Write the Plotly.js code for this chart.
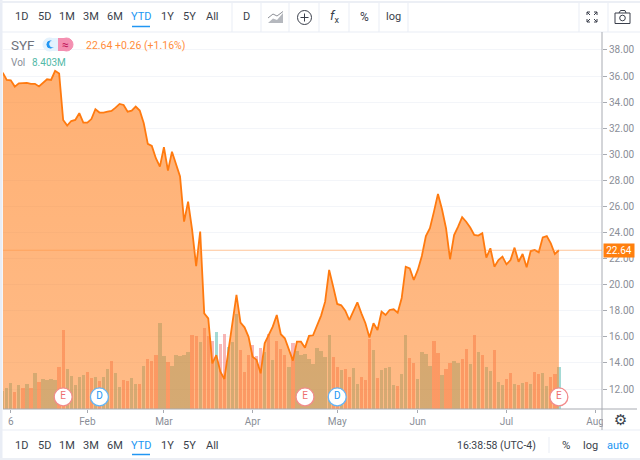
<!DOCTYPE html>
<html>
<head>
<meta charset="utf-8">
<script src="https://cdn.plot.ly/plotly-3.0.1.min.js"></script>
<style>html,body{margin:0;padding:0;background:#fff;overflow:hidden}#c{width:640px;height:460px}</style>
</head>
<body>
<div id="c"></div>
<script>
var closes = [36.26,35.7,35.67,35.19,35.44,35.44,35.47,35.4,35.4,35.2,
35.44,35.75,35.7,36.4,36.2,32.63,32.2,32.55,32.63,33.15,
32.43,32.43,32.7,33.45,33.2,33.2,33.27,33.32,33.58,33.86,
33.78,33.27,33.35,33.66,33.35,32.38,30.8,30.64,29.7,29.05,
30.54,28.75,30.2,29.3,28.3,24.83,26.37,24.2,21.43,24.07,
17.8,17.42,13.97,14.6,13.33,12.77,14.99,17.04,19.21,17.09,
16.73,16.0,14.48,14.23,13.2,15.5,16.14,16.78,17.67,16.2,
15.89,15.0,14.18,15.63,15.63,15.17,16.07,16.12,16.91,17.63,
18.7,21.13,19.85,18.52,18.42,18.0,17.29,17.93,18.65,17.8,
17.04,15.95,17.04,16.52,17.93,17.67,18.06,18.11,17.85,18.98,
21.38,21.25,20.36,21.13,22.2,23.73,24.33,25.6,26.96,25.78,
24.33,21.95,23.81,24.45,25.17,24.83,24.38,23.81,23.76,23.94,
22.07,22.79,21.38,21.89,22.15,21.56,21.89,22.84,21.76,22.35,
21.33,22.58,22.66,22.48,23.63,23.73,23.17,22.35,22.64];
var volumes = [3.67,4.13,5.27,3.33,4.8,4.13,5,4.13,7.13,5.4,
6,5.8,6,5.8,8.33,15.8,8.07,6.6,4.8,6.47,
6.73,7.4,6.13,6.47,5.6,6.47,8,9.67,7.27,4.33,
5.8,5.67,6.13,5,5,8.6,9.93,9.67,10.8,17.3,
10.6,9.5,8.65,10.8,10.7,10.8,11.35,14.8,14.67,13.33,
16.15,14.6,13.55,15.33,13,14.93,12.33,13.33,18.93,11.8,
7.4,10.8,12.8,10.67,12.13,11.47,14.93,9.8,13.6,12,
10.73,8.47,13.27,11.6,10.8,11,10,9,12.2,11.6,
10.5,14.8,10.5,8.33,7.8,7.93,6.4,8.13,5,6.35,
5.85,13.93,11.8,6.13,7.8,8.13,8.33,4.8,4.6,7,
14.8,10.13,9.27,5.93,11.47,11,8.6,13.6,11.13,6.73,
8,9.13,9.6,9.13,10,12,9,14.8,11.33,10.8,
8.47,7.67,11.8,5.33,4.8,6.07,7.13,5,4.8,5.27,
5.4,5,7.4,7,7.13,4.6,6.47,7,8.403];
var volumeDirection = ["u","u","u","d","u","d","u","d","u","d",
"u","u","u","u","d","d","u","u","u","u",
"u","d","d","u","d","u","u","d","u","u",
"d","d","u","u","d","u","d","d","d","u",
"u","d","u","u","u","u","u","d","d","u",
"d","d","d","u","d","d","u","u","u","d",
"d","d","d","d","d","u","d","u","d","d",
"d","u","d","u","u","u","u","u","u","u",
"u","u","d","d","u","d","d","u","u","d",
"d","d","u","d","u","u","u","u","d","u",
"u","d","d","u","u","u","u","d","d","u",
"d","d","u","u","d","d","u","d","u","d",
"u","u","d","u","u","d","d","u","d","u",
"d","u","d","d","u","u","d","d","u"];
var eventIndex = [15,24,75,83,138];
var eventLabels = ["E","D","E","D","E"];
var xTickIndex = [2,21,40,62,83,103,125,147];
var xTickLabels = ["6","Feb","Mar","Apr","May","Jun","Jul","Aug"];
var yTicks = [12,14,16,18,20,22,24,26,28,30,32,34,36,38];
var rangeButtons = ["1D","5D","1M","3M","6M","YTD","1Y","5Y","All"];

var index = closes.map(function(_, i){ return i; });
var last = closes[closes.length-1];
var FONT = "Roboto, 'Noto Sans', sans-serif";
var L=3, R=602, T=33, B=409;
function px(x){ return (x-L)/(R-L); }
function py(y){ return (B-y)/(B-T); }
function txt(x,y,t,size,color,anchor,extra){
  var a={xref:'paper',yref:'paper',x:px(x),y:py(y),text:t,showarrow:false,xanchor:anchor||'center',yanchor:'middle',
    font:{family:FONT,size:size,color:color},borderpad:0};
  if(extra) for(var k in extra) a[k]=extra[k];
  return a;
}
function ln(x0,y0,x1,y1,c,w){ return {type:'line',xref:'paper',yref:'paper',x0:px(x0),y0:py(y0),x1:px(x1),y1:py(y1),line:{color:c,width:w||1},layer:'above'}; }
function box(x0,y0,x1,y1,f,c,w){ return {type:'rect',xref:'paper',yref:'paper',x0:px(x0),y0:py(y0),x1:px(x1),y1:py(y1),fillcolor:f,line:{color:c||f,width:w===undefined?0:w},layer:'above'}; }
function circ(cx,cy,r,f,c,w){ return {type:'circle',xref:'paper',yref:'paper',x0:px(cx-r),y0:py(cy-r),x1:px(cx+r),y1:py(cy+r),fillcolor:f,line:{color:c||f,width:w===undefined?1:w},layer:'above'}; }
function poly(pts,f,c,w){ var d=pts.map(function(p,i){return (i?'L':'M')+px(p[0])+','+py(p[1]);}).join(' ')+' Z';
  return {type:'path',xref:'paper',yref:'paper',path:d,fillcolor:f,line:{color:c||f,width:w||0},layer:'above'}; }

var annotations=[], shapes=[];
var FR='#e9edf5', TX='#3a3f4b';
shapes.push(box(603,410,640,430,'#ffffff'));
shapes.push(box(0,0,2.5,460,FR));
shapes.push(box(0,1,640,3,'#eceff5'));
shapes.push(ln(0,32,640,32,FR,1));
shapes.push(ln(0,430,640,430,FR,1));
shapes.push(box(0,458,640,460,'#eceff5'));
[232,261,289,319,349,379,408,579,608].forEach(function(x){ shapes.push(ln(x,3,x,32,FR,1)); });
shapes.push(ln(549,437,549,453,FR,1));
shapes.push(ln(602,32,602,430,'#a8abb2',1));
shapes.push(ln(3,409,637,409,'#a8abb2',1));

var btnX=[21,44,67,91,115,141,167,189,212];
rangeButtons.forEach(function(b,i){
  var c=b==='YTD'?'#2196f3':TX;
  annotations.push(txt(btnX[i],17,b,11,c));
  annotations.push(txt(btnX[i],445,b,11,c));
});
shapes.push(ln(132,26.5,150,26.5,'#2196f3',1.5));
shapes.push(ln(132,454.5,150,454.5,'#2196f3',1.5));
annotations.push(txt(246,17,'D',11,TX));
shapes.push(poly([[268,23],[273,18.5],[277,20],[283,13],[283,23]],'#b5b8be'));
shapes.push(ln(268,18,273,14,'#8d9097',1));
shapes.push(ln(273,14,277,16,'#8d9097',1));
shapes.push(ln(277,16,283,11.5,'#8d9097',1));
shapes.push(circ(304.5,17.5,7,'rgba(0,0,0,0)',TX,1));
shapes.push(ln(300.5,17.5,308.5,17.5,TX,1));
shapes.push(ln(304.5,13.5,304.5,21.5,TX,1));
annotations.push(txt(334,17,'<i>f</i><sub>x</sub>',13,TX));
annotations.push(txt(364,17,'%',12,TX));
annotations.push(txt(394,17,'log',11,TX));
[[587,12,1,1],[597,12,-1,1],[587,22,1,-1],[597,22,-1,-1]].forEach(function(a){
  shapes.push(ln(a[0],a[1],a[0]+3*a[2],a[1]+3*a[3],TX,1));
  shapes.push(ln(a[0],a[1],a[0]+3*a[2],a[1],TX,1));
  shapes.push(ln(a[0],a[1],a[0],a[1]+3*a[3],TX,1));
});
shapes.push(box(615,13,630,23.5,'rgba(0,0,0,0)',TX,1));
shapes.push(ln(619,13,620.5,10.5,TX,1));
shapes.push(ln(620.5,10.5,625,10.5,TX,1));
shapes.push(ln(625,10.5,626,13,TX,1));
shapes.push(circ(622.5,18,2.8,'rgba(0,0,0,0)',TX,1));
annotations.push(txt(10,45,'SYF',13.5,'#6f737d','left'));
shapes.push(circ(49.5,44.5,6.5,'#e3f2fd'));
shapes.push(box(49.5,38,58,51,'#e3f2fd'));
shapes.push(box(58,38,66.5,51,'#f48fb1'));
shapes.push(circ(66.5,44.5,6.5,'#f48fb1'));
shapes.push(circ(50.5,44.5,3.6,'#2196f3'));
shapes.push(circ(52.8,44,3.1,'#e3f2fd'));
annotations.push(txt(65,44.5,'≈',12,'#c2185b'));
annotations.push(txt(85,45,'22.64 +0.26 (+1.16%)',10.5,'#ff8c3a','left'));
annotations.push(txt(10,62,'Vol',10,'#8a8e97','left'));
annotations.push(txt(31,62,'8.403M',10,'#53b9a8','left'));
annotations.push(txt(619,250,last.toFixed(2),10,'#ffffff','center',{bgcolor:'#ff7f0e',width:30,height:13}));
annotations.push(txt(496,445,'16:38:58 (UTC-4)',10.5,TX));
annotations.push(txt(566,445,'%',11.5,TX));
annotations.push(txt(590,445,'log',11,TX));
annotations.push(txt(618,445,'auto',11,'#2196f3'));
annotations.push(txt(620,420,'⚙',15,'#3a3f4b','center',{font:{family:'DejaVu Sans',size:15,color:'#3a3f4b'}}));
shapes.push({type:'line',xref:'paper',yref:'y2',x0:0,x1:1,y0:last,y1:last,line:{color:'rgba(255,150,70,0.55)',width:1.2},layer:'above'});

var volumeTrace={type:'bar',x:index,y:volumes,yaxis:'y',width:0.82,hoverinfo:'skip',
  marker:{color:volumeDirection.map(function(d){return d==='u'?'rgba(38,166,154,0.42)':'rgba(239,83,80,0.42)';}),line:{width:0}}};
var priceTrace={type:'scatter',mode:'lines',x:index,y:closes,yaxis:'y2',fill:'tozeroy',
  fillgradient:{type:'vertical',colorscale:[[0,'rgba(255,128,30,0.50)'],[1,'rgba(255,128,30,0.62)']]},
  line:{color:'#ff7a0f',width:1.8,shape:'linear'},hoverinfo:'skip'};
var eventTrace={type:'scatter',mode:'markers+text',yaxis:'y2',cliponaxis:false,hoverinfo:'skip',
  x:eventIndex,y:eventIndex.map(function(){return 11.39;}),text:eventLabels,textposition:'middle center',
  textfont:{family:FONT,size:10,color:eventLabels.map(function(e){return e==='E'?'#ee6f6f':'#2196f3';})},
  marker:{size:18,color:'#ffffff',line:{width:1.3,color:eventLabels.map(function(e){return e==='E'?'#f28b8b':'#64b5f6';})}}};

var layout={width:640,height:460,margin:{l:L,r:640-R,t:T,b:460-B,pad:0},paper_bgcolor:'#ffffff',plot_bgcolor:'#ffffff',
  showlegend:false,bargap:0,
  xaxis:{range:[0.07,148.7],tickmode:'array',tickvals:xTickIndex,ticktext:xTickLabels,ticks:'outside',ticklen:3,tickcolor:'#a8abb2',
    showgrid:false,zeroline:false,showline:false,tickfont:{family:FONT,size:10,color:'#8a8e97'},fixedrange:true},
  yaxis:{range:[0,75.2],visible:false,fixedrange:true},
  yaxis2:{overlaying:'y',side:'right',range:[10.466,39.3],tickmode:'array',tickvals:yTicks,tickformat:'.2f',ticks:'outside',ticklen:4,tickcolor:'#a8abb2',
    showgrid:true,gridcolor:'#f3f5f9',gridwidth:1,zeroline:false,showline:false,tickfont:{family:FONT,size:10,color:'#8a8e97'},fixedrange:true},
  annotations:annotations,shapes:shapes};
Plotly.newPlot('c',[volumeTrace,priceTrace,eventTrace],layout,{displayModeBar:false,staticPlot:true});
</script>
</body>
</html>
